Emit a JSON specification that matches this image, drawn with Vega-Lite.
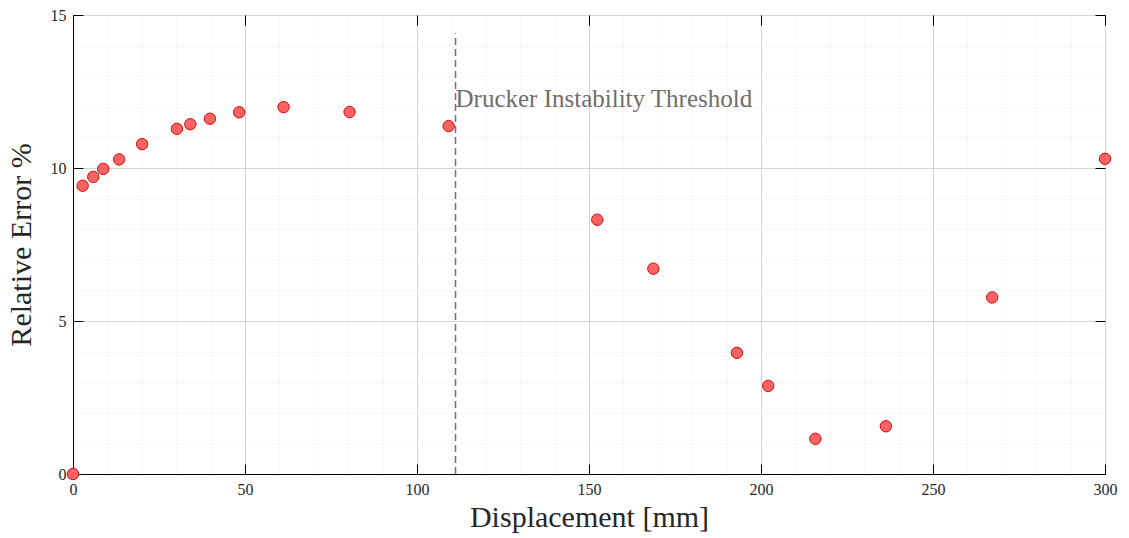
{
  "$schema": "https://vega.github.io/schema/vega-lite/v6.json",
  "width": 1032,
  "height": 459,
  "autosize": "none",
  "padding": {"left": 73, "top": 15, "right": 24, "bottom": 64},
  "background": "white",
  "config": {"view": {"stroke": "black", "strokeWidth": 1}, "font": "Liberation Serif"},
  "datasets": {
    "points": [
      {"displacement": 0, "error": 0},
      {"displacement": 2.8, "error": 9.42},
      {"displacement": 5.9, "error": 9.71},
      {"displacement": 8.8, "error": 9.97},
      {"displacement": 13.4, "error": 10.28},
      {"displacement": 20.1, "error": 10.78},
      {"displacement": 30.2, "error": 11.28},
      {"displacement": 34.1, "error": 11.43},
      {"displacement": 39.8, "error": 11.61},
      {"displacement": 48.3, "error": 11.82},
      {"displacement": 61.2, "error": 11.99},
      {"displacement": 80.4, "error": 11.83},
      {"displacement": 109.2, "error": 11.37},
      {"displacement": 152.4, "error": 8.31},
      {"displacement": 168.7, "error": 6.71},
      {"displacement": 193.0, "error": 3.96},
      {"displacement": 202.1, "error": 2.88},
      {"displacement": 215.8, "error": 1.15},
      {"displacement": 236.3, "error": 1.56},
      {"displacement": 267.2, "error": 5.77},
      {"displacement": 300, "error": 10.30}
    ],
    "threshold": [
      {"displacement": 111.2, "bottom": 0, "top": 14.4, "label": "Drucker Instability Threshold", "labelY": 12.25}
    ]
  },
  "layer": [
    {
      "data": {"name": "points"},
      "mark": {"type": "circle", "size": 130, "fill": "#ff6262", "stroke": "#cc0f0f", "strokeWidth": 1, "opacity": 1, "fillOpacity": 1},
      "encoding": {
        "x": {
          "field": "displacement", "type": "quantitative",
          "scale": {"domain": [0, 300], "nice": false, "zero": false},
          "axis": {
            "orient": "bottom",
            "values": [0,10,20,30,40,50,60,70,80,90,100,110,120,130,140,150,160,170,180,190,200,210,220,230,240,250,260,270,280,290,300],
            "title": "Displacement [mm]",
            "titleFont": "Liberation Serif", "titleFontSize": 30, "titleFontWeight": "normal", "titleColor": "#262626", "titlePadding": 5,
            "labelFont": "Liberation Serif", "labelFontSize": 16, "labelColor": "#262626", "labelPadding": 17, "labelFlush": false,
            "labelExpr": "datum.value % 50 === 0 ? datum.label : ''",
            "tickSize": -10, "tickColor": "black", "tickWidth": 1,
            "tickOpacity": {"condition": {"test": "datum.value % 50 === 0", "value": 1}, "value": 0},
            "domainColor": "black", "domainWidth": 1,
            "grid": true,
            "gridColor": {"condition": {"test": "datum.value % 50 === 0", "value": "#d4d4d4"}, "value": "#e4e4e4"},
            "gridDash": {"condition": {"test": "datum.value % 50 === 0", "value": []}, "value": [1, 3]},
            "gridWidth": 1
          }
        },
        "y": {
          "field": "error", "type": "quantitative",
          "scale": {"domain": [0, 15], "nice": false, "zero": false},
          "axis": {
            "orient": "left",
            "values": [0,1,2,3,4,5,6,7,8,9,10,11,12,13,14,15],
            "title": "Relative Error %",
            "titleFont": "Liberation Serif", "titleFontSize": 30, "titleFontWeight": "normal", "titleColor": "#262626", "titlePadding": 14,
            "labelFont": "Liberation Serif", "labelFontSize": 16, "labelColor": "#262626", "labelPadding": 17, "labelFlush": false,
            "labelExpr": "datum.value % 5 === 0 ? datum.label : ''",
            "tickSize": -10, "tickColor": "black", "tickWidth": 1,
            "tickOpacity": {"condition": {"test": "datum.value % 5 === 0", "value": 1}, "value": 0},
            "domainColor": "black", "domainWidth": 1,
            "grid": true,
            "gridColor": {"condition": {"test": "datum.value % 5 === 0", "value": "#d4d4d4"}, "value": "#e4e4e4"},
            "gridDash": {"condition": {"test": "datum.value % 5 === 0", "value": []}, "value": [1, 3]},
            "gridWidth": 1
          }
        }
      }
    },
    {
      "data": {"name": "threshold"},
      "mark": {"type": "rule", "color": "#707070", "strokeDash": [7, 4], "strokeWidth": 1.5},
      "encoding": {
        "x": {
          "field": "displacement", "type": "quantitative",
          "scale": {"domain": [0, 300], "nice": false, "zero": false},
          "axis": {"orient": "top", "values": [0,50,100,150,200,250,300], "labels": false, "title": null, "grid": false, "domain": false, "tickSize": -10, "tickColor": "black", "tickWidth": 1}
        },
        "y": {
          "field": "bottom", "type": "quantitative",
          "scale": {"domain": [0, 15], "nice": false, "zero": false},
          "axis": {"orient": "right", "values": [0,5,10,15], "labels": false, "title": null, "grid": false, "domain": false, "tickSize": -10, "tickColor": "black", "tickWidth": 1}
        },
        "y2": {"field": "top"}
      }
    },
    {
      "data": {"name": "threshold"},
      "mark": {"type": "text", "align": "left", "baseline": "middle", "fontSize": 25, "font": "Liberation Serif", "color": "#6e6e6e"},
      "encoding": {
        "x": {"field": "displacement", "type": "quantitative", "scale": {"domain": [0, 300], "nice": false, "zero": false}, "axis": null},
        "y": {"field": "labelY", "type": "quantitative", "scale": {"domain": [0, 15], "nice": false, "zero": false}, "axis": null},
        "text": {"field": "label"}
      }
    }
  ],
  "resolve": {"axis": {"x": "independent", "y": "independent"}}
}
